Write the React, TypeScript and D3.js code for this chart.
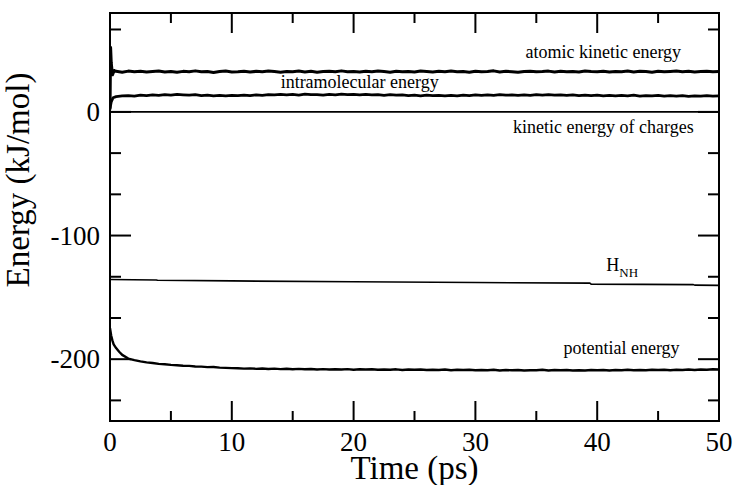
import React from "react";
import * as d3 from "d3";

const W = 735;
const H = 485;
const margin = { left: 110, right: 16, top: 13, bottom: 64 };

const xDomain = [0, 50];
const yDomain = [-250, 80];
const xMajorTicks = [0, 10, 20, 30, 40, 50];
const xMinorTicks = [5, 15, 25, 35, 45];
const yMajorTicks = [-200, -100, 0];
const yMinorTicks = [-233.33, -166.67, -133.33, -66.67, -33.33, 66.67];

// atomic kinetic energy: start-up transient, then steady samples every 0.5 ps from 0.5 ps
const akeStartT = [0, 0.05, 0.1, 0.2, 0.35];
const akeStartV = [2, 52, 40, 30, 33.5];
const akeSteady = [
  32.8, 32.1, 33.0, 32.4, 32.9, 32.2, 32.6, 33.1, 32.3, 32.7,
  32.0, 32.8, 32.5, 33.2, 32.4, 32.6, 31.9, 32.7, 33.0, 32.3,
  32.5, 32.9, 32.2, 32.8, 32.4, 33.1, 32.6, 32.0, 32.7, 32.5,
  33.0, 32.3, 32.8, 32.1, 32.6, 32.9, 32.4, 33.2, 32.5, 32.7,
  32.2, 32.8, 32.4, 33.0, 32.6, 32.1, 32.9, 32.5, 32.7, 32.3,
  33.1, 32.6, 32.2, 32.8, 32.4, 33.0, 32.5, 32.7, 32.1, 32.9,
  32.4, 32.6, 33.2, 32.3, 32.8, 32.5, 32.0, 32.7, 32.9, 32.4,
  32.6, 33.0, 32.2, 32.8, 32.5, 32.7, 32.3, 33.1, 32.6, 32.4,
  32.9, 32.2, 32.7, 32.5, 33.0, 32.3, 32.8, 32.6, 32.1, 32.9,
  32.4, 32.7, 33.1, 32.5, 32.8, 32.2, 32.6, 32.9, 32.4, 32.7,
];

// intramolecular energy
const intraStartT = [0, 0.1, 0.25];
const intraStartV = [3, 8, 11.5];
const intraSteady = [
  12.4, 12.9, 13.2, 12.8, 13.5, 13.1, 13.7, 13.4, 14.0, 13.6,
  14.2, 13.8, 13.5, 13.9, 13.2, 13.6, 13.0, 13.4, 12.9, 13.3,
  13.1, 13.6, 13.2, 13.8, 13.4, 14.0, 13.7, 14.2, 13.8, 14.1,
  13.6, 14.3, 13.9, 14.0, 13.5, 14.2, 13.8, 14.4, 13.9, 14.1,
  13.7, 14.2, 13.8, 14.0, 13.4, 13.9, 13.5, 13.8, 13.2, 13.6,
  13.0, 13.5, 13.1, 13.4, 12.9, 13.3, 13.0, 13.6, 13.2, 13.7,
  13.3, 13.8, 13.4, 13.9, 13.5, 13.7, 13.3, 13.8, 13.4, 14.0,
  13.6, 13.9, 13.5, 13.8, 13.3, 13.7, 13.2, 13.6, 13.1, 13.5,
  13.0, 13.4, 12.9, 13.3, 13.0, 13.5, 12.8, 13.2, 12.9, 13.3,
  12.7, 13.1, 12.8, 13.2, 12.6, 13.0, 12.7, 13.1, 12.8, 12.9,
];

// kinetic energy of charges
const kecT = [0, 50];
const kecV = [0, 0];

// H_NH
const hnhT = [0, 3.8, 3.9, 10, 20, 30, 39.4, 39.5, 47.9, 48, 50];
const hnhV = [-135.6, -135.9, -136.2, -136.7, -137.4, -138.0, -138.5, -139.3, -139.7, -140.1, -140.3];

// potential energy: early decay, then samples every 0.5 ps from 10.5 ps
const peStartT = [0, 0.1, 0.2, 0.3, 0.5, 0.75, 1, 1.5, 2, 2.5, 3, 3.5, 4, 4.5, 5, 5.5, 6, 6.5, 7, 7.5, 8, 8.5, 9, 9.5, 10];
const peStartV = [-175, -181, -185, -188, -191, -194, -196.5, -199.5, -200.8, -201.8, -202.6, -203.1, -203.8, -204.1, -204.6, -204.9, -205.3, -205.4, -205.9, -206.0, -206.4, -206.3, -206.8, -207.0, -207.2];
const peSteady = [
  -207.3, -207.6, -207.4, -207.8, -207.5, -207.9, -207.6, -208.0, -207.7, -208.1,
  -207.8, -208.2, -207.9, -208.3, -208.0, -208.4, -208.1, -208.3, -208.0, -208.5,
  -208.2, -208.4, -208.1, -208.6, -208.3, -208.5, -208.2, -208.7, -208.4, -208.6,
  -208.3, -208.8, -208.5, -208.7, -208.4, -208.9, -208.6, -208.8, -208.5, -209.0,
  -208.7, -208.9, -208.6, -209.1, -208.8, -209.0, -208.7, -209.2, -208.9, -209.0,
  -208.6, -209.1, -208.8, -209.0, -208.7, -209.2, -208.9, -209.1, -208.8, -209.0,
  -208.7, -209.1, -208.8, -209.0, -208.6, -208.9, -208.7, -209.0, -208.6, -208.8,
  -208.5, -208.9, -208.6, -208.8, -208.4, -208.7, -208.3, -208.5, -208.2, -208.4,
];

type Pt = [number, number];
function join(t0: number[], v0: number[], tStart: number, vals: number[]): Pt[] {
  const pts: Pt[] = t0.map((t, i) => [t, v0[i]] as Pt);
  vals.forEach((v, i) => pts.push([tStart + i * 0.5, v]));
  return pts;
}
function pairs(t: number[], v: number[]): Pt[] {
  return t.map((x, i) => [x, v[i]] as Pt);
}

const labels = [
  { text: "atomic kinetic energy", t: 40.5, v: 44 },
  { text: "intramolecular energy", t: 20.5, v: 19 },
  { text: "kinetic energy of charges", t: 40.5, v: -17 },
  { text: "potential energy", t: 42, v: -195.5 },
];

const FONT = "'Liberation Serif', 'Times New Roman', Times, serif";

export default function App() {
  const x = d3.scaleLinear().domain(xDomain).range([margin.left, W - margin.right]);
  const y = d3.scaleLinear().domain(yDomain).range([H - margin.bottom, margin.top]);
  const line = d3
    .line<Pt>()
    .x((d) => x(d[0]))
    .y((d) => y(d[1]));

  const series = [
    { pts: join(akeStartT, akeStartV, 0.5, akeSteady), w: 3 },
    { pts: join(intraStartT, intraStartV, 0.5, intraSteady), w: 2.8 },
    { pts: pairs(kecT, kecV), w: 1.6 },
    { pts: pairs(hnhT, hnhV), w: 1.6 },
    { pts: join(peStartT, peStartV, 10.5, peSteady), w: 2.4 },
  ];

  const x0 = x(xDomain[0]);
  const x1 = x(xDomain[1]);
  const yTop = y(yDomain[1]);
  const yBot = y(yDomain[0]);

  return (
    <svg
      width={W}
      height={H}
      style={{ position: "absolute", left: 0, top: 0, background: "#fff" }}
      fontFamily={FONT}
    >
      <rect x={0} y={0} width={W} height={H} fill="#fff" />
      <defs>
        <clipPath id="plot">
          <rect x={x0} y={yTop} width={x1 - x0} height={yBot - yTop} />
        </clipPath>
      </defs>
      <g clipPath="url(#plot)">
        {series.map((s, i) => (
          <path key={i} d={line(s.pts) || ""} fill="none" stroke="#000" strokeWidth={s.w} strokeLinejoin="round" />
        ))}
      </g>

      {/* ticks */}
      <g stroke="#000" strokeWidth={2}>
        {xMajorTicks.map((t) => (
          <g key={"xm" + t}>
            <line x1={x(t)} x2={x(t)} y1={yBot} y2={yBot - 20} />
            <line x1={x(t)} x2={x(t)} y1={yTop} y2={yTop + 20} />
          </g>
        ))}
        {xMinorTicks.map((t) => (
          <g key={"xn" + t}>
            <line x1={x(t)} x2={x(t)} y1={yBot} y2={yBot - 10} />
            <line x1={x(t)} x2={x(t)} y1={yTop} y2={yTop + 10} />
          </g>
        ))}
        {yMajorTicks.map((t) => (
          <g key={"ym" + t}>
            <line x1={x0} x2={x0 + 21} y1={y(t)} y2={y(t)} />
            <line x1={x1} x2={x1 - 21} y1={y(t)} y2={y(t)} />
          </g>
        ))}
        {yMinorTicks.map((t) => (
          <g key={"yn" + t}>
            <line x1={x0} x2={x0 + 11} y1={y(t)} y2={y(t)} />
            <line x1={x1} x2={x1 - 11} y1={y(t)} y2={y(t)} />
          </g>
        ))}
      </g>
      <rect x={x0} y={yTop} width={x1 - x0} height={yBot - yTop} fill="none" stroke="#000" strokeWidth={2} />

      {/* tick labels */}
      <g fontSize={27} fill="#000">
        {xMajorTicks.map((t) => (
          <text key={"xl" + t} x={x(t)} y={yBot + 30} textAnchor="middle">
            {t}
          </text>
        ))}
        {yMajorTicks.map((t) => (
          <text key={"yl" + t} x={x0 - 10} y={y(t) + 9} textAnchor="end">
            {t}
          </text>
        ))}
      </g>

      {/* axis titles */}
      <text x={(x0 + x1) / 2} y={479} textAnchor="middle" fontSize={33}>
        Time (ps)
      </text>
      <text transform={`translate(29,180) rotate(-90)`} textAnchor="middle" fontSize={33}>
        Energy (kJ/mol)
      </text>

      {/* series labels */}
      <g fontSize={18} fill="#000">
        {labels.map((l) => (
          <text key={l.text} x={x(l.t)} y={y(l.v)} textAnchor="middle">
            {l.text}
          </text>
        ))}
        <text x={x(40.75)} y={y(-129)} textAnchor="start">
          H
          <tspan dy={6} fontSize={13}>
            NH
          </tspan>
        </text>
      </g>
    </svg>
  );
}
